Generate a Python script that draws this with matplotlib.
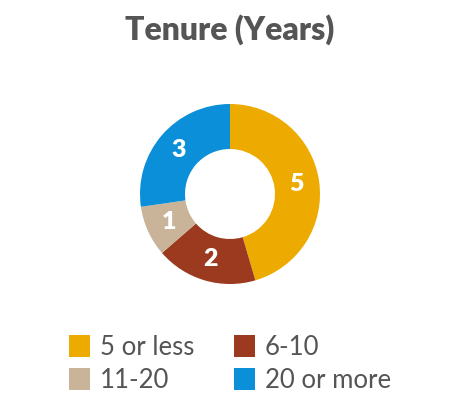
import matplotlib
matplotlib.use("Agg")
import matplotlib.pyplot as plt
from matplotlib.patches import Patch

categories = ["5 or less", "6-10", "11-20", "20 or more"]
values = [5, 2, 1, 3]
colors = ["#EDAA00", "#9B3A1F", "#C9B49A", "#0A8FD8"]

plt.rcParams['font.family'] = ['Lato', 'DejaVu Sans']

fig = plt.figure(figsize=(4.6, 4.0), dpi=100)
fig.text(0.5, 1 - 30/400, "Tenure (Years)", ha="center", va="center",
         fontsize=23, fontweight="heavy", color="#555555")

# donut: center at (230,194) px, outer radius 90 px
ax = fig.add_axes([(230 - 90)/460, (400 - 284)/400, 180/460, 180/400])
wedges, texts = ax.pie(values, colors=colors, startangle=90, counterclock=False,
                       radius=1, labels=[str(v) for v in values], labeldistance=0.75,
                       wedgeprops=dict(width=0.5, edgecolor="none"),
                       textprops=dict(color="white", fontsize=18, fontweight="heavy",
                                      ha="center", va="center"))
ax.set_xlim(-1, 1)
ax.set_ylim(-1, 1)
ax.set_aspect("equal")
ax.axis("off")

# legend, row-wise order: 5 or less, 6-10 / 11-20, 20 or more
order = [0, 2, 1, 3]
handles = [Patch(facecolor=colors[i], edgecolor="none") for i in order]
labels = [categories[i] for i in order]
fig.legend(handles, labels, ncol=2, loc="upper left",
           bbox_to_anchor=(69/460, 1 - 335/400), frameon=False,
           fontsize=18.5, labelcolor="#555555",
           handlelength=0.8, handleheight=0.95, handletextpad=0.4,
           columnspacing=1.55, labelspacing=0.3, borderpad=0, borderaxespad=0)

fig.savefig("out.png", dpi=100)
